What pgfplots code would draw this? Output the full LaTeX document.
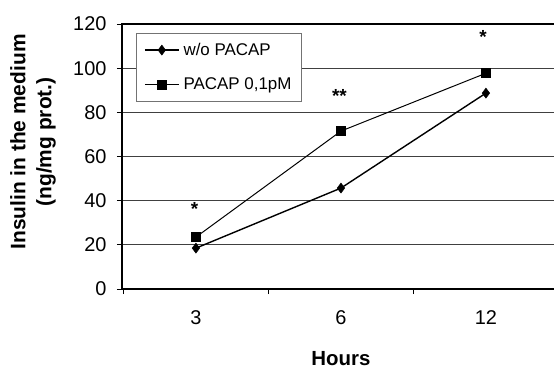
\documentclass[border=0pt]{standalone}
\usepackage{pgfplots}
\pgfplotsset{compat=1.18}
\usepackage{fontspec}
\setmainfont{Liberation Sans}
\begin{document}
\begin{tikzpicture}
\path[use as bounding box] (-122bp,-82bp) rectangle (432bp,289bp);
\begin{axis}[
  scale only axis,
  width=436bp, height=265bp,
  at={(0,0)}, anchor=south west,
  xmin=-0.51, xmax=2.497,
  ymin=0, ymax=120,
  axis line style={line width=1.5bp},
  xtick={0,1,2}, xticklabels={3,6,12},
  minor xtick={-0.5,0.5,1.5},
  ytick={0,20,...,120},
  tick align=outside,
  xtick pos=bottom, ytick pos=left,
  major tick length=5bp, minor tick length=5bp,
  x tick style={draw=none},
  minor x tick style={draw=black, line width=0.8bp},
  y tick style={line width=0.8bp, black},
  ymajorgrids,
  grid style={line width=0.8bp, black!75},
  /pgf/number format/assume math mode=true,
  ticklabel style={font=\fontsize{20}{22}\selectfont},
  xticklabel style={yshift=-13bp},
  yticklabel style={xshift=-7bp},
  xlabel={Hours},
  ylabel={Insulin in the medium\\(ng/mg prot.)},
  xlabel style={font=\fontsize{20.5}{24}\selectfont\bfseries, at={(axis description cs:0.502,-0.264)}, anchor=center},
  ylabel style={font=\fontsize{21}{26}\selectfont\bfseries, align=center, at={(axis description cs:-0.204,0.555)}, anchor=center},
  legend style={at={(axis description cs:0.032,0.966)}, anchor=north west,
    draw=black!55, fill=white, font=\fontsize{17}{19}\selectfont,
    inner xsep=8bp, inner ysep=8bp, row sep=17bp,
    /tikz/every odd column/.append style={column sep=2bp}},
  legend cell align=left,
  legend image code/.code={\draw[mark repeat=2,mark phase=2,#1] plot coordinates {(0bp,0bp)(17bp,0bp)(34bp,0bp)};},
]
\addplot[black, line width=1.4bp, mark=diamond*, mark size=5bp, mark options={solid, fill=black, line width=0.5bp}]
  coordinates {(0,18.5) (1,45.7) (2,88.7)};
\addlegendentry{w/o PACAP}
\addplot[black, line width=1bp, mark=square*, mark size=4.5bp, mark options={solid, fill=black, line width=0.5bp}]
  coordinates {(0,23.5) (1,71.5) (2,97.7)};
\addlegendentry{PACAP 0,1pM}
\node[anchor=base, font=\fontsize{19}{20}\selectfont\bfseries, inner sep=0pt] at (axis cs:-0.01,33.5) {*};
\node[anchor=base, font=\fontsize{19}{20}\selectfont\bfseries, inner sep=0pt] at (axis cs:0.99,84.5) {**};
\node[anchor=base, font=\fontsize{19}{20}\selectfont\bfseries, inner sep=0pt] at (axis cs:1.98,111) {*};
\end{axis}
\end{tikzpicture}
\end{document}
